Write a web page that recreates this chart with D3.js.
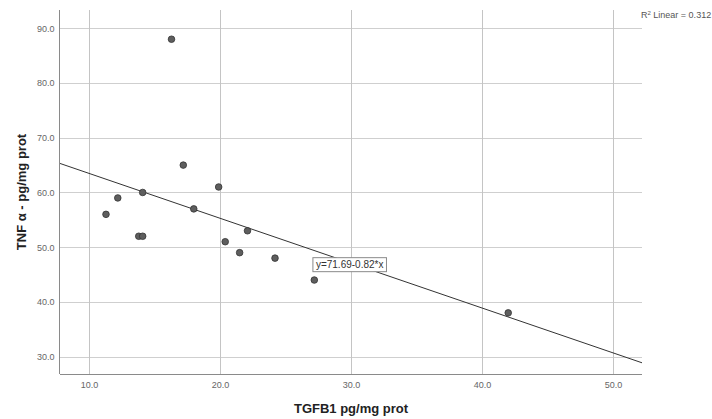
<!DOCTYPE html>
<html>
<head>
<meta charset="utf-8">
<script src="https://cdn.jsdelivr.net/npm/d3@7"></script>
<style>
  html, body { margin: 0; padding: 0; background: #fff; }
  svg { display: block; font-family: Arial, "Liberation Sans", sans-serif; }
</style>
</head>
<body>
<svg id="chart" width="712" height="419"></svg>
<script>
// TGFB1 vs TNF-alpha measurements
const tgfb1 = [16.3, 17.2, 19.9, 14.1, 12.2, 18.0, 11.3, 13.8, 14.1, 22.1, 20.4, 21.5, 24.2, 27.2, 42.0];
const tnfAlpha = [88.0, 65.0, 61.0, 60.0, 59.0, 57.0, 56.0, 52.0, 52.0, 53.0, 51.0, 49.0, 48.0, 44.0, 38.0];

// Linear fit reported with the chart
const fitIntercept = 71.69;
const fitSlope = -0.82;
const rSquared = 0.312;

const xTicks = [10, 20, 30, 40, 50];
const yTicks = [30, 40, 50, 60, 70, 80, 90];

const xLabel = "TGFB1 pg/mg prot";
const yLabel = "TNF \u03b1 - pg/mg prot";

const svg = d3.select("#chart");
const plotLeft = 60, plotRight = 642, plotTop = 10, plotBottom = 374;

const x = d3.scaleLinear().domain([7.79, 52.21]).range([plotLeft, plotRight]);
const y = d3.scaleLinear().domain([26.83, 93.34]).range([plotBottom, plotTop]);

// grid
svg.append("g").selectAll("line").data(yTicks).join("line")
  .attr("x1", plotLeft).attr("x2", plotRight)
  .attr("y1", d => Math.round(y(d)) + 0.5).attr("y2", d => Math.round(y(d)) + 0.5)
  .attr("stroke", "#cfcfcf").attr("stroke-width", 1);
svg.append("g").selectAll("line").data(xTicks).join("line")
  .attr("x1", d => Math.round(x(d)) + 0.5).attr("x2", d => Math.round(x(d)) + 0.5)
  .attr("y1", plotTop).attr("y2", plotBottom)
  .attr("stroke", "#c4c4c4").attr("stroke-width", 1);

// axes
const xAxis = d3.axisBottom(x).tickValues(xTicks).tickFormat(d3.format(".1f")).tickSize(0).tickPadding(7);
const yAxis = d3.axisLeft(y).tickValues(yTicks).tickFormat(d3.format(".1f")).tickSize(0).tickPadding(5);

const gx = svg.append("g").attr("transform", `translate(0,${plotBottom + 0.5})`).call(xAxis);
const gy = svg.append("g").attr("transform", `translate(${plotLeft - 0.5},0)`).call(yAxis);
[gx, gy].forEach(g => {
  g.select(".domain").attr("stroke", "#8a8a8a");
  g.selectAll("text").attr("fill", "#666").attr("font-size", 9)
    .attr("font-family", "'Liberation Sans Narrow', Arial, sans-serif");
});
gx.select(".domain").attr("d", `M${plotLeft},0H${plotRight}`);
gy.select(".domain").attr("d", `M0,${plotTop}V${plotBottom}`);

// axis titles
svg.append("text").attr("x", (plotLeft + plotRight) / 2).attr("y", 413)
  .attr("text-anchor", "middle").attr("font-size", 13).attr("font-weight", "bold")
  .attr("fill", "#222").text(xLabel);
svg.append("text").attr("transform", `translate(26,${(plotTop + plotBottom) / 2}) rotate(-90)`)
  .attr("text-anchor", "middle").attr("font-size", 13).attr("font-weight", "bold")
  .attr("fill", "#222").text(yLabel);

// fit line, clipped to the plot area
svg.append("clipPath").attr("id", "plot-clip").append("rect")
  .attr("x", plotLeft).attr("y", plotTop).attr("width", plotRight - plotLeft).attr("height", plotBottom - plotTop);
const fx = x.domain();
svg.append("line").attr("clip-path", "url(#plot-clip)")
  .attr("x1", x(fx[0])).attr("y1", y(fitIntercept + fitSlope * fx[0]))
  .attr("x2", x(fx[1])).attr("y2", y(fitIntercept + fitSlope * fx[1]))
  .attr("stroke", "#333").attr("stroke-width", 1);

// points
svg.append("g").selectAll("circle").data(d3.zip(tgfb1, tnfAlpha)).join("circle")
  .attr("cx", d => x(d[0])).attr("cy", d => y(d[1])).attr("r", 3.3)
  .attr("fill", "#5e5e5e").attr("stroke", "#333").attr("stroke-width", 0.8);

// equation label on the fit line
const eqX = 29.9;
const eqG = svg.append("g")
  .attr("transform", `translate(${x(eqX)},${y(fitIntercept + fitSlope * eqX) + 2})`);
const eqText = eqG.append("text").attr("text-anchor", "middle").attr("dy", "0.35em")
  .attr("font-size", 10).attr("fill", "#333")
  .text(`y=${fitIntercept.toFixed(2)}${fitSlope < 0 ? "-" : "+"}${Math.abs(fitSlope).toFixed(2)}*x`);
const bb = eqText.node().getBBox();
eqG.insert("rect", "text")
  .attr("x", bb.x - 3).attr("y", bb.y - 1.5).attr("width", bb.width + 6).attr("height", bb.height + 3)
  .attr("fill", "#fff").attr("stroke", "#8a8a8a").attr("stroke-width", 1);

// R-squared note
const rt = svg.append("text").attr("x", 641).attr("y", 18).attr("font-size", 9).attr("fill", "#555");
rt.append("tspan").text("R");
rt.append("tspan").attr("dy", -3).attr("font-size", 6).text("2");
rt.append("tspan").attr("dy", 3).text(` Linear = ${rSquared.toFixed(3)}`);
</script>
</body>
</html>
